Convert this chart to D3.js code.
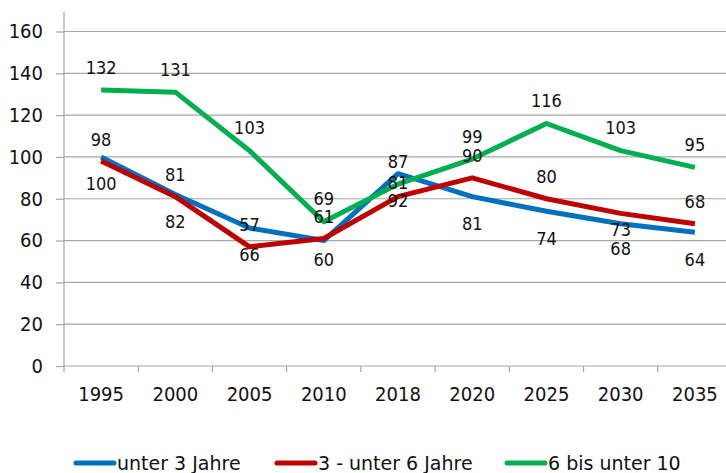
<!DOCTYPE html>
<html>
<head>
<meta charset="utf-8">
<script src="https://cdn.jsdelivr.net/npm/d3@7"></script>
<style>
  body { margin: 0; background: #fff; }
  svg text { font-family: "DejaVu Sans Condensed", "DejaVu Sans", sans-serif; font-stretch: condensed; fill: #111; }
  svg text.legend { font-family: "DejaVu Sans", sans-serif; font-stretch: normal; }
</style>
</head>
<body>
<div id="chart"></div>
<script>
const years = ["1995", "2000", "2005", "2010", "2018", "2020", "2025", "2030", "2035"];
const unter3 = [100, 82, 66, 60, 92, 81, 74, 68, 64];
const von3bis6 = [98, 81, 57, 61, 81, 90, 80, 73, 68];
const von6bis10 = [132, 131, 103, 69, 87, 99, 116, 103, 95];
const seriesNames = ["unter 3 Jahre", "3 - unter 6 Jahre", "6 bis unter 10"];
const yTicks = [0, 20, 40, 60, 80, 100, 120, 140, 160];

const width = 726, height = 473;
const plotLeft = 64, plotRight = 732, plotTop = 31.5, plotBottom = 366;

// label offset from the point, plus a few hand-moved labels (like in the original)
const series = [
  { name: seriesNames[0], values: unter3, color: "#0070c0", dy: 27, nudge: { 3: -8, 7: -2 } },
  { name: seriesNames[1], values: von3bis6, color: "#c00000", dy: -22, nudge: { 4: 8, 7: 38 } },
  { name: seriesNames[2], values: von6bis10, color: "#00b050", dy: -23, nudge: {} }
];

const svg = d3.select("#chart").append("svg")
  .attr("width", width)
  .attr("height", height);

const x = d3.scaleBand().domain(years).range([plotLeft, plotRight]);
const y = d3.scaleLinear().domain([0, 160]).range([plotBottom, plotTop]);

// gridlines
svg.append("g").selectAll("line")
  .data(yTicks.filter(d => d > 0))
  .join("line")
  .attr("x1", plotLeft).attr("x2", width)
  .attr("y1", d => y(d)).attr("y2", d => y(d))
  .attr("stroke", "#a6a6a6").attr("stroke-width", 1.2);

// y axis
const yAxis = svg.append("g")
  .attr("transform", `translate(${plotLeft},0)`)
  .call(d3.axisLeft(y).tickValues(yTicks).tickSize(8).tickPadding(13));
yAxis.select(".domain").remove();
yAxis.selectAll("line").attr("stroke", "#a6a6a6").attr("stroke-width", 1.2);
yAxis.selectAll("text").attr("font-size", 20).attr("fill", "#111").attr("font-family", null);
svg.append("line")
  .attr("x1", plotLeft).attr("x2", plotLeft).attr("y1", 12).attr("y2", plotBottom)
  .attr("stroke", "#a6a6a6").attr("stroke-width", 1.2);

// x axis
svg.append("line")
  .attr("x1", plotLeft).attr("x2", width).attr("y1", plotBottom).attr("y2", plotBottom)
  .attr("stroke", "#a6a6a6").attr("stroke-width", 1.2);
svg.append("g").selectAll("line")
  .data(years)
  .join("line")
  .attr("x1", d => x(d)).attr("x2", d => x(d))
  .attr("y1", plotBottom).attr("y2", plotBottom + 6)
  .attr("stroke", "#a6a6a6").attr("stroke-width", 1.2);
svg.append("g").selectAll("text")
  .data(years)
  .join("text")
  .attr("x", d => x(d) + x.bandwidth() / 2)
  .attr("y", 401)
  .attr("text-anchor", "middle")
  .attr("font-size", 20)
  .text(d => d);

// lines
const line = d3.line()
  .x((d, i) => x(years[i]) + x.bandwidth() / 2)
  .y(d => y(d));

svg.append("g").selectAll("path")
  .data(series)
  .join("path")
  .attr("d", s => line(s.values))
  .attr("fill", "none")
  .attr("stroke", s => s.color)
  .attr("stroke-width", 5)
  .attr("stroke-linejoin", "round");

// data labels
series.forEach(s => {
  svg.append("g").selectAll("text")
    .data(s.values)
    .join("text")
    .attr("x", (d, i) => x(years[i]) + x.bandwidth() / 2)
    .attr("y", (d, i) => y(d) + s.dy + (s.nudge[i] || 0))
    .attr("dy", "0.36em")
    .attr("text-anchor", "middle")
    .attr("font-size", 18)
    .text(d => d);
});

// legend
const legendX = [76, 277, 507];
const legend = svg.append("g").selectAll("g")
  .data(series)
  .join("g")
  .attr("transform", (d, i) => `translate(${legendX[i]},463)`);
legend.append("line")
  .attr("x1", 0).attr("x2", 38)
  .attr("stroke", d => d.color).attr("stroke-width", 5)
  .attr("stroke-linecap", "round");
legend.append("text")
  .attr("class", "legend")
  .attr("x", 41)
  .attr("dy", "0.36em")
  .attr("font-size", 19)
  .text(d => d.name);
</script>
</body>
</html>
